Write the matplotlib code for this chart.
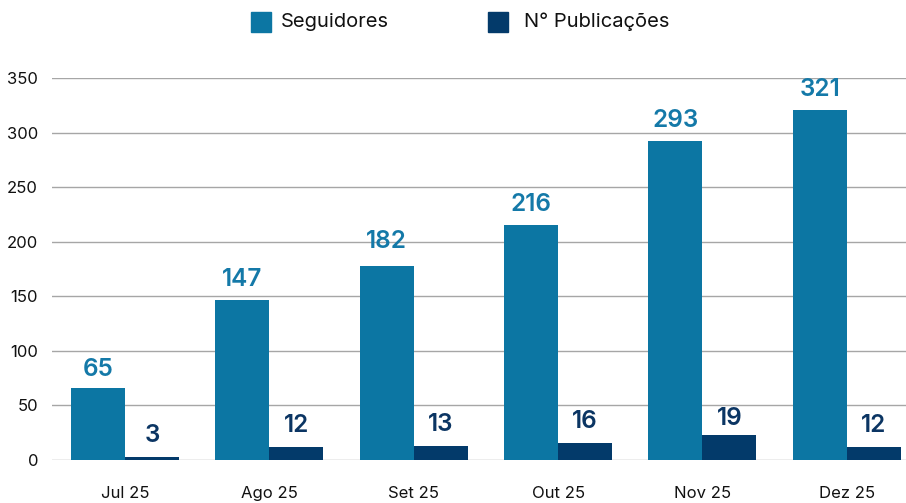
import matplotlib
matplotlib.use('Agg')
import matplotlib.pyplot as plt
from matplotlib.patches import Rectangle
import numpy as np

# data
meses = ["Jul 25", "Ago 25", "Set 25", "Out 25", "Nov 25", "Dez 25"]
seguidores = [66, 147, 178, 215, 292, 321]          # bar heights as drawn
seguidores_rotulos = [65, 147, 182, 216, 293, 321]  # labels printed above bars
publicacoes = [3, 12, 13, 16, 23, 12]
publicacoes_rotulos = [3, 12, 13, 16, 19, 12]
series = ["Seguidores", "N° Publicações"]

cor_seg = "#0c76a3"
cor_pub = "#033a6a"
cor_rot_seg = "#1479a8"
cor_rot_pub = "#0b3563"

plt.rcParams['font.family'] = ['Inter', 'DejaVu Sans']

W, H = 906, 503
fig = plt.figure(figsize=(W / 100, H / 100), dpi=100)
ax = fig.add_axes([52 / W, 1 - 460 / H, 1 - 52 / W, (460 - 78) / H])

x = np.arange(len(meses))
w = 0.374
ax.bar(x - w / 2, seguidores, w, color=cor_seg, zorder=3)
ax.bar(x + w / 2, publicacoes, w, color=cor_pub, zorder=3)

# value labels
for xi, v in zip(x, seguidores_rotulos):
    ax.annotate(str(v), (xi - w / 2, v), xytext=(0, 6), textcoords="offset points",
                ha="center", va="bottom", fontsize=17.5, fontweight="semibold",
                color=cor_rot_seg, annotation_clip=False)
for xi, v in zip(x, publicacoes_rotulos):
    ax.annotate(str(v), (xi + w / 2, v), xytext=(0, 7), textcoords="offset points",
                ha="center", va="bottom", fontsize=17.5, fontweight="semibold",
                color=cor_rot_pub, annotation_clip=False)

ax.set_xlim(-0.506, 5.41)
ax.set_ylim(0, 350)
ax.set_yticks(range(0, 351, 50))
ax.set_xticks(x)
ax.set_xticklabels(meses)
ax.tick_params(axis="x", length=0, pad=19, labelsize=12, colors="#111111")
ax.tick_params(axis="y", length=0, pad=10, labelsize=12, colors="#111111")
ax.grid(axis="y", color="#a6a6a6", linewidth=1, zorder=0)
for s in ax.spines.values():
    s.set_visible(False)

# legend drawn by hand, in figure pixels
for (sx, tx), nome, cor in zip([(251, 281), (488, 524)], series, [cor_seg, cor_pub]):
    fig.add_artist(Rectangle((sx / W, 1 - 32 / H), 20 / W, 20 / H,
                             transform=fig.transFigure, color=cor))
    fig.text(tx / W, 1 - 22 / H, nome, ha="left", va="center",
             fontsize=14.5, color="#111111")

fig.savefig("out.png", dpi=100)
